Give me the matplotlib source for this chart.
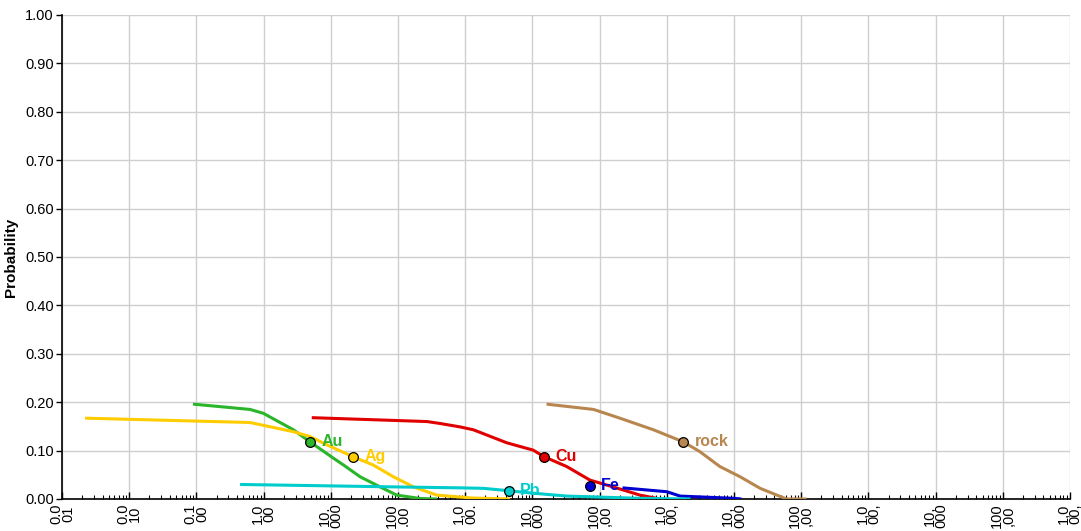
import matplotlib
matplotlib.use("Agg")
import matplotlib.pyplot as plt
from matplotlib.ticker import FixedLocator, FixedFormatter, LogLocator, NullFormatter

plt.rcParams['font.family'] = ['Liberation Sans', 'DejaVu Sans']

# Exceedance curves: value (log scale) vs probability
au_x = [0.089, 0.628, 0.99, 2.77, 4.9, 11.0, 15.5, 27.2, 54, 95.5, 214, 380]
au_p = [0.196, 0.185, 0.177, 0.143, 0.118, 0.084, 0.070, 0.046, 0.025, 0.008, 0.001, 0.0]
au_mark = (4.9, 0.118)

ag_x = [0.0022, 0.628, 2.77, 4.9, 8.7, 21.7, 43, 85, 170, 376, 1260, 4650]
ag_p = [0.167, 0.158, 0.139, 0.129, 0.112, 0.087, 0.070, 0.046, 0.025, 0.008, 0.002, 0.0]
ag_mark = (21.7, 0.087)

cu_x = [5.2, 269, 422, 832, 1320, 4170, 10230, 15100, 32400, 71900, 158000, 398000, 794000]
cu_p = [0.168, 0.160, 0.156, 0.149, 0.143, 0.116, 0.101, 0.087, 0.067, 0.039, 0.025, 0.008, 0.0]
cu_mark = (15100, 0.087)

fe_x = [219000, 1.0e6, 1.58e6, 9.8e6, 1.29e7]
fe_p = [0.023, 0.015, 0.006, 0.0014, 0.0]
fe_mark = (70800, 0.027)

pb_x = [0.446, 85, 832, 1860, 4470, 10200, 32400, 398000, 2.24e6]
pb_p = [0.030, 0.025, 0.023, 0.022, 0.017, 0.012, 0.006, 0.0014, 0.0]
pb_mark = (4470, 0.017)

rock_x = [16200, 81300, 200000, 631000, 1.76e6, 3.09e6, 6.17e6, 1.23e7, 2.45e7, 6.03e7, 1.2e8]
rock_p = [0.196, 0.185, 0.167, 0.143, 0.118, 0.098, 0.067, 0.046, 0.022, 0.0, 0.0]
rock_mark = (1.76e6, 0.118)

series = [
    ("Au", au_x, au_p, au_mark, "#2ab52a"),
    ("Ag", ag_x, ag_p, ag_mark, "#ffcc00"),
    ("Cu", cu_x, cu_p, cu_mark, "#e00000"),
    ("Fe", fe_x, fe_p, fe_mark, "#0000d0"),
    ("Pb", pb_x, pb_p, pb_mark, "#00cccc"),
    ("rock", rock_x, rock_p, rock_mark, "#b8864f"),
]

x_ticks = [10.0 ** e for e in range(-3, 13)]
x_labels = ["0.0\n01", "0.0\n10", "0.1\n00", "1.0\n00", "10.\n000", "100\n.00",
            "1,0\n00.", "10,\n000", "100\n,00", "1,0\n00,", "10,\n000", "100\n,00",
            "1,0\n00,", "10,\n000", "100\n,00", "1,0\n00,"]
y_ticks = [0.0, 0.1, 0.2, 0.3, 0.4, 0.5, 0.6, 0.7, 0.8, 0.9, 1.0]

fig = plt.figure(figsize=(10.81, 5.31), dpi=100)
ax = fig.add_axes([0.0574, 0.0603, 0.9324, 0.9115])
ax.set_xscale("log")
ax.set_xlim(1e-3, 1e12)
ax.set_ylim(0, 1.0)

ax.grid(True, which="major", color="#cfcfcf", linewidth=1.0)
ax.set_axisbelow(True)

for name, xs, ps, mark, col in series:
    ax.plot(xs, ps, color=col, linewidth=2.2, solid_capstyle="butt", zorder=3)
    ax.plot([mark[0]], [mark[1]], marker="o", markersize=7, color=col,
            markeredgecolor="black", markeredgewidth=0.9, zorder=5)
    ax.annotate(name, xy=mark, xytext=(8, 0), textcoords="offset points",
                color=col, fontsize=11.5, fontweight="bold", va="center", ha="left",
                zorder=4)

ax.xaxis.set_major_locator(FixedLocator(x_ticks))
ax.xaxis.set_major_formatter(FixedFormatter(x_labels))
ax.xaxis.set_minor_locator(LogLocator(base=10, subs=range(2, 10), numticks=100))
ax.xaxis.set_minor_formatter(NullFormatter())
ax.tick_params(axis="x", which="major", direction="in", length=5, width=1,
               labelsize=10.5, pad=3, labelrotation=90)
ax.tick_params(axis="x", which="minor", direction="in", length=3, width=0.8)
for lbl in ax.get_xticklabels():
    lbl.set_va("top")
    lbl.set_ha("center")
    lbl.set_linespacing(0.8)

ax.set_yticks(y_ticks)
ax.set_yticklabels([f"{v:.2f}" for v in y_ticks])
ax.tick_params(axis="y", direction="out", length=4, width=1, labelsize=10.5, pad=2)

ax.spines["top"].set_visible(False)
ax.spines["right"].set_visible(False)
ax.spines["left"].set_linewidth(1.2)
ax.spines["bottom"].set_linewidth(1.2)

ax.set_ylabel("Probability", fontsize=11, fontweight="bold", labelpad=5)

fig.savefig("out.png", dpi=100)
